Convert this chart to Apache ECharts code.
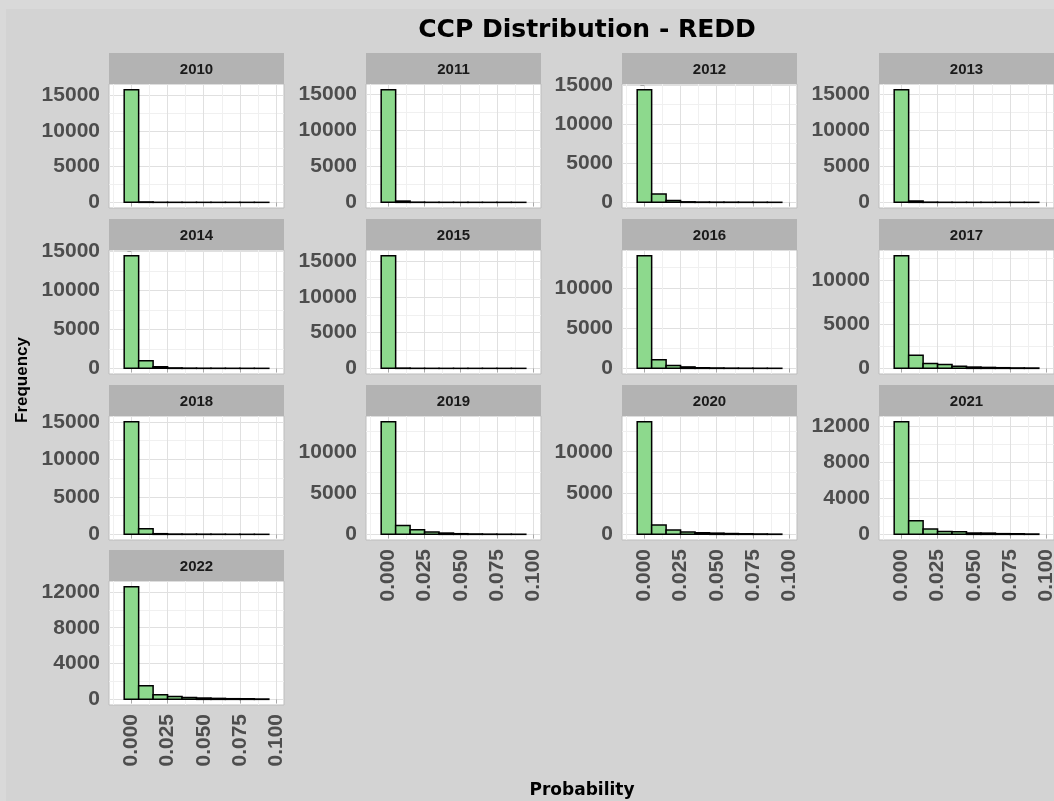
<!DOCTYPE html>
<html>
<head>
<meta charset="utf-8">
<script src="https://cdn.jsdelivr.net/npm/echarts@6/dist/echarts.min.js"></script>
<style>
  html, body { margin: 0; padding: 0; background: #d9d9d9; }
  #chart { width: 1054px; height: 801px; }
</style>
</head>
<body>
<div id="chart"></div>
<script>
// facet years
const years = ['2010', '2011', '2012', '2013', '2014', '2015', '2016',
  '2017', '2018', '2019', '2020', '2021', '2022'];

// histogram bin edges (binwidth 0.01)
const binEdges = [-0.005, 0.005, 0.015, 0.025, 0.035, 0.045, 0.055, 0.065, 0.075, 0.085, 0.095];

// counts per bin
const counts2010 = [15750, 60, 15, 8, 5, 4, 3, 2, 2, 1];
const counts2011 = [15600, 180, 30, 10, 6, 4, 3, 2, 2, 1];
const counts2012 = [14420, 1060, 250, 70, 40, 30, 25, 20, 15, 10];
const counts2013 = [15600, 190, 30, 10, 5, 4, 3, 2, 1, 1];
const counts2014 = [14470, 980, 210, 60, 30, 20, 15, 10, 8, 5];
const counts2015 = [15790, 40, 10, 5, 3, 2, 2, 1, 1, 1];
const counts2016 = [13990, 1070, 370, 180, 80, 50, 30, 20, 15, 10];
const counts2017 = [12780, 1500, 560, 450, 230, 150, 110, 75, 50, 40];
const counts2018 = [15040, 750, 90, 40, 30, 25, 20, 10, 8, 5];
const counts2019 = [13640, 1080, 560, 280, 160, 80, 50, 30, 20, 15];
const counts2020 = [13640, 1120, 520, 280, 200, 150, 100, 70, 50, 30];
const counts2021 = [12480, 1500, 590, 330, 290, 150, 140, 80, 70, 40];
const counts2022 = [12590, 1520, 520, 330, 220, 150, 110, 75, 70, 40];

const allCounts = [counts2010, counts2011, counts2012, counts2013, counts2014,
  counts2015, counts2016, counts2017, counts2018, counts2019, counts2020,
  counts2021, counts2022];

// y break step for each panel (free scales)
const yStep = [5000, 5000, 5000, 5000, 5000, 5000, 5000, 5000, 5000, 5000, 5000, 4000, 4000];

// x breaks
const xTicks = [0, 0.025, 0.05, 0.075, 0.1];
const xMinor = [-0.0125, 0.0125, 0.0375, 0.0625, 0.0875];
const xLimits = [-0.01, 0.1];

// panels showing the x labels (bottom of each column)
const xLabelPanels = [9, 10, 11, 12];

const colLeft = [109, 366, 622, 879];
const stripTop = [53, 219, 385, 550];
const panelW = 175, stripH = 31, panelH = 124;

const chart = echarts.init(document.getElementById('chart'));

const grid = [], xAxis = [], yAxis = [], series = [], graphic = [];
const xPad = (xLimits[1] - xLimits[0]) * 0.05;

years.forEach((yr, i) => {
  const col = i % 4, row = Math.floor(i / 4);
  const counts = allCounts[i];
  const M = Math.max(...counts);
  const yMin = -0.05 * M, yMax = 1.05 * M;
  const step = yStep[i];
  const yTicks = [], yMinor = [];
  for (let v = 0; v <= yMax; v += step) yTicks.push(v);
  for (let v = -step / 2; v <= yMax; v += step) if (v >= yMin) yMinor.push(v);

  grid.push({
    left: colLeft[col], top: stripTop[row] + stripH, width: panelW, height: panelH,
    show: true, backgroundColor: '#fff', borderColor: '#bdbdbd', borderWidth: 1,
    outerBoundsMode: 'none'
  });

  const showX = xLabelPanels.includes(i);
  xAxis.push({
    type: 'value', gridIndex: i, min: xLimits[0] - xPad, max: xLimits[1] + xPad,
    axisLine: { show: false },
    axisTick: { show: true, length: 4, lineStyle: { color: '#a8a8a8' }, customValues: xTicks },
    axisLabel: {
      show: showX, customValues: xTicks, rotate: 90, margin: 9,
      color: '#4d4d4d', fontSize: 21, fontWeight: 'bold', fontFamily: 'Liberation Sans',
      formatter: v => v.toFixed(3)
    },
    splitLine: { show: true, lineStyle: { color: '#e0e0e0', width: 1 } }
  });
  xAxis.push({
    type: 'value', gridIndex: i, min: xLimits[0] - xPad, max: xLimits[1] + xPad,
    axisLine: { show: false },
    axisTick: { show: false, customValues: xMinor },
    axisLabel: { show: false },
    splitLine: { show: true, lineStyle: { color: '#f0f0f0', width: 1 } }
  });
  yAxis.push({
    type: 'value', gridIndex: i, min: yMin, max: yMax,
    axisLine: { show: false },
    axisTick: { show: true, length: 4, lineStyle: { color: '#a8a8a8' }, customValues: yTicks },
    axisLabel: {
      customValues: yTicks, margin: 9,
      color: '#4d4d4d', fontSize: 21, fontWeight: 'bold', fontFamily: 'Liberation Sans',
      formatter: v => String(Math.round(v))
    },
    splitLine: { show: true, lineStyle: { color: '#e0e0e0', width: 1 } }
  });
  yAxis.push({
    type: 'value', gridIndex: i, min: yMin, max: yMax,
    axisLine: { show: false },
    axisTick: { show: false, customValues: yMinor },
    axisLabel: { show: false },
    splitLine: { show: true, lineStyle: { color: '#f0f0f0', width: 1 } }
  });

  series.push({
    type: 'custom',
    xAxisIndex: i * 2, yAxisIndex: i * 2,
    data: counts.map((c, k) => [binEdges[k], binEdges[k + 1], c]),
    renderItem: (params, api) => {
      const p0 = api.coord([api.value(0), api.value(2)]);
      const p1 = api.coord([api.value(1), 0]);
      return {
        type: 'rect',
        shape: { x: p0[0], y: p0[1], width: p1[0] - p0[0], height: p1[1] - p0[1] },
        style: { fill: '#8dd98d', stroke: '#000', lineWidth: 1.5 }
      };
    },
    silent: true
  });

  // facet strip
  graphic.push({
    type: 'group', left: colLeft[col], top: stripTop[row],
    children: [
      { type: 'rect', shape: { x: 0, y: 0, width: panelW, height: stripH }, style: { fill: '#b3b3b3' } },
      {
        type: 'text', x: panelW / 2, y: stripH / 2 + 1,
        style: {
          text: yr, fill: '#1a1a1a', font: 'bold 15px "Liberation Sans"',
          align: 'center', verticalAlign: 'middle'
        }
      }
    ]
  });
});

graphic.push({
  type: 'rect', left: 6, top: 9, z: -10,
  shape: { width: 1048, height: 792 }, style: { fill: '#d3d3d3' }
});
graphic.push({
  type: 'text', x: 587, y: 30,
  style: {
    text: 'CCP Distribution - REDD', fill: '#000', font: 'bold 25px "DejaVu Sans"',
    align: 'center', verticalAlign: 'middle'
  }
});
graphic.push({
  type: 'text', x: 582, y: 791,
  style: {
    text: 'Probability', fill: '#000', font: 'bold 17px "DejaVu Sans"',
    align: 'center', verticalAlign: 'middle'
  }
});
graphic.push({
  type: 'text', x: 22, y: 380, rotation: Math.PI / 2,
  style: { text: 'Frequency', fill: '#000', font: 'bold 17px "Liberation Sans"', align: 'center', verticalAlign: 'middle' }
});

chart.setOption({
  backgroundColor: '#d9d9d9',
  animation: false,
  grid: grid,
  xAxis: xAxis,
  yAxis: yAxis,
  series: series,
  graphic: graphic
});
</script>
</body>
</html>
